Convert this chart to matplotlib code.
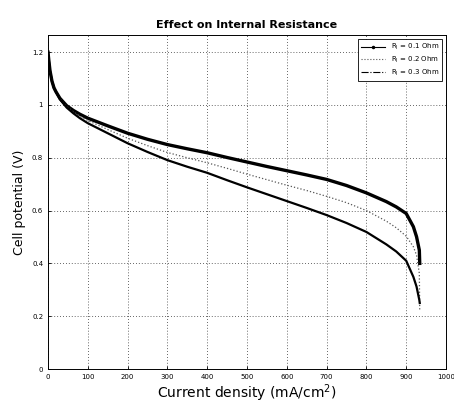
import matplotlib
matplotlib.use("Agg")
import matplotlib.pyplot as plt
from matplotlib.lines import Line2D

# Data
current = [0, 2, 5, 10, 15, 20, 30, 47, 64, 80, 100, 150, 200, 250, 300, 350,
           400, 450, 500, 550, 600, 650, 700, 750, 800, 850, 875, 900, 918,
           926, 933, 934]
v_r01 = [1.20, 1.17, 1.13, 1.09, 1.065, 1.05, 1.025, 0.997, 0.979, 0.965,
         0.950, 0.921, 0.893, 0.870, 0.850, 0.834, 0.819, 0.801, 0.784, 0.767,
         0.751, 0.735, 0.718, 0.695, 0.667, 0.634, 0.614, 0.589, 0.539,
         0.501, 0.450, 0.400]
v_r02 = [1.20, 1.17, 1.13, 1.09, 1.065, 1.05, 1.023, 0.994, 0.974, 0.958,
         0.941, 0.907, 0.874, 0.846, 0.820, 0.800, 0.781, 0.760, 0.738, 0.717,
         0.696, 0.676, 0.654, 0.630, 0.600, 0.560, 0.535, 0.503, 0.463,
         0.431, 0.362, 0.223]
v_r03 = [1.20, 1.17, 1.13, 1.09, 1.065, 1.05, 1.021, 0.990, 0.968, 0.950,
         0.931, 0.893, 0.855, 0.822, 0.791, 0.766, 0.743, 0.715, 0.688, 0.662,
         0.636, 0.610, 0.583, 0.553, 0.519, 0.472, 0.445, 0.410, 0.349,
         0.312, 0.261, 0.250]
labels = ["R$_{\\rm I}$ = 0.1 Ohm", "R$_{\\rm I}$ = 0.2 Ohm", "R$_{\\rm I}$ = 0.3 Ohm"]
xticks = list(range(0, 1001, 100))
yticks = [0, 0.2, 0.4, 0.6, 0.8, 1.0, 1.2]
yticklabels = ["0", "0.2", "0.4", "0.6", "0.8", "1", "1.2"]

fig = plt.figure(figsize=(4.54, 4.16), dpi=100)
ax = fig.add_axes([48/454, 1-369/416, (446-48)/454, (369-35)/416])

ax.plot(current, v_r01, '-', color='black', lw=2.4)
ax.plot(current, v_r02, ':', color='#555555', lw=0.9)
ax.plot(current, v_r03, '-', color='black', lw=1.6)

ax.set_xlim(0, 1000)
ax.set_ylim(0, 1.265)
ax.set_xticks(xticks)
ax.set_xticklabels([str(t) for t in xticks], fontsize=5)
ax.set_yticks(yticks)
ax.set_yticklabels(yticklabels, fontsize=5)
ax.tick_params(direction='in', length=2, width=0.6)
ax.grid(True, linestyle=(0, (1, 2.5)), color='#333333', lw=0.6)
for s in ax.spines.values():
    s.set_linewidth(0.7)

ax.set_title("Effect on Internal Resistance", fontsize=8, fontweight='bold', pad=5)
ax.set_xlabel("Current density (mA/cm$^2$)", fontsize=10, labelpad=2)
ax.set_ylabel("Cell potential (V)", fontsize=9, labelpad=4)

handles = [
    Line2D([], [], color='black', lw=0.8, ls='-', marker='.', ms=3),
    Line2D([], [], color='#555555', lw=0.8, ls=':'),
    Line2D([], [], color='black', lw=0.8, ls='-.'),
]
leg = ax.legend(handles, labels, loc='upper right', fontsize=5, frameon=True,
                fancybox=False, edgecolor='black', framealpha=1,
                borderaxespad=0.6, handlelength=3.5, labelspacing=0.4)
leg.get_frame().set_linewidth(0.6)

fig.savefig("out.png", dpi=100)
